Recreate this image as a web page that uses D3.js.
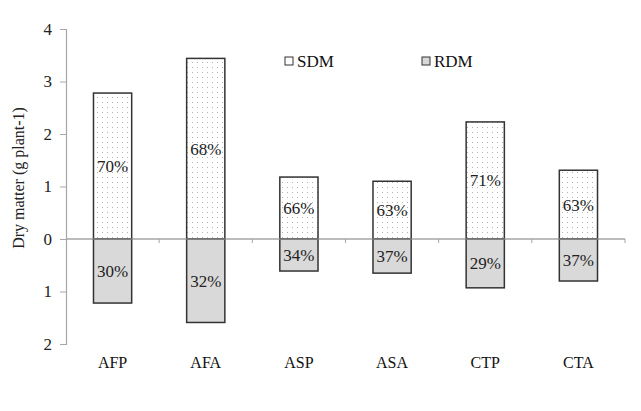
<!DOCTYPE html>
<html><head><meta charset="utf-8">
<script src="https://cdn.jsdelivr.net/npm/d3@7"></script>
<style>body{margin:0;background:#fff}svg{display:block}</style>
</head><body>
<script>
const categories = ["AFP","AFA","ASP","ASA","CTP","CTA"];
const sdm = [2.78, 3.44, 1.18, 1.10, 2.23, 1.31];
const rdm = [1.22, 1.59, 0.61, 0.65, 0.93, 0.80];
const sdmPct = ["70%","68%","66%","63%","71%","63%"];
const rdmPct = ["30%","32%","34%","37%","29%","37%"];
const yTicks = [-2,-1,0,1,2,3,4];
const seriesNames = ["SDM","RDM"];

const W=641,H=411;
const svg=d3.select("body").append("svg").attr("width",W).attr("height",H);
const defs=svg.append("defs");
const pat=defs.append("pattern").attr("id","dots").attr("patternUnits","userSpaceOnUse")
  .attr("width",5).attr("height",5);
pat.append("rect").attr("width",5).attr("height",5).attr("fill","#fff");
pat.append("rect").attr("x",2).attr("y",2).attr("width",1).attr("height",1).attr("fill","#b0b0b0");

const x=d3.scaleBand().domain(categories).range([66,625]).paddingInner(0.59).paddingOuter(0.295);
const xb=d3.scaleBand().domain(categories).range([66,625]);
const y=d3.scaleLinear().domain([-2,4]).range([344,29]);
const serif="'Liberation Serif','Times New Roman',serif";
const axisCol="#a6a6a6";

// y axis
const ya=svg.append("g").attr("transform","translate(66,0)")
  .call(d3.axisLeft(y).tickValues(yTicks).tickSize(6).tickFormat(d=>Math.abs(d)));
ya.select(".domain").attr("stroke",axisCol).attr("stroke-width",1.2);
ya.selectAll(".tick line").attr("stroke",axisCol);
ya.selectAll(".tick text").attr("font-family",serif).attr("font-size",17).attr("fill","#222").attr("x",-14);

// x axis at zero
const xa=svg.append("g").attr("transform",`translate(0,${y(0)})`);
xa.append("line").attr("x1",66).attr("x2",625).attr("stroke",axisCol).attr("stroke-width",1.2);
xa.selectAll(".xt").data(categories).join("line").attr("class","xt")
  .attr("x1",d=>xb(d)+xb.bandwidth()).attr("x2",d=>xb(d)+xb.bandwidth())
  .attr("y1",0).attr("y2",4).attr("stroke",axisCol);

// bars
const g=svg.append("g");
categories.forEach((c,i)=>{
  g.append("rect").attr("x",x(c)).attr("width",x.bandwidth())
    .attr("y",y(sdm[i])).attr("height",y(0)-y(sdm[i]))
    .attr("fill","url(#dots)").attr("stroke","#333").attr("stroke-width",1.5);
  g.append("rect").attr("x",x(c)).attr("width",x.bandwidth())
    .attr("y",y(0)).attr("height",y(-rdm[i])-y(0))
    .attr("fill","#d9d9d9").attr("stroke","#333").attr("stroke-width",1.5);
  g.append("text").attr("x",x(c)+x.bandwidth()/2).attr("y",y(sdm[i]/2)+6)
    .attr("text-anchor","middle").attr("font-family",serif).attr("font-size",17).attr("fill","#222").text(sdmPct[i]);
  g.append("text").attr("x",x(c)+x.bandwidth()/2).attr("y",y(-rdm[i]/2)+6)
    .attr("text-anchor","middle").attr("font-family",serif).attr("font-size",17).attr("fill","#222").text(rdmPct[i]);
});
svg.append("line").attr("x1",66).attr("x2",625).attr("y1",y(0)).attr("y2",y(0)).attr("stroke",axisCol).attr("stroke-width",1.2);

// category labels
svg.selectAll(".cl").data(categories).join("text").attr("class","cl")
  .attr("x",d=>xb(d)+xb.bandwidth()/2).attr("y",368).attr("text-anchor","middle")
  .attr("font-family",serif).attr("font-size",16).attr("fill","#111").text(d=>d);

// y title
svg.append("text").attr("transform","translate(24,178) rotate(-90)").attr("text-anchor","middle")
  .attr("font-family",serif).attr("font-size",16).attr("fill","#222").text("Dry matter  (g plant-1)");

// legend
const leg=[{x:285,fill:"#fff"},{x:422,fill:"#d9d9d9"}];
seriesNames.forEach((s,i)=>{
  svg.append("rect").attr("x",leg[i].x).attr("y",57).attr("width",8).attr("height",8)
    .attr("fill",leg[i].fill).attr("stroke","#333").attr("stroke-width",1);
  svg.append("text").attr("x",leg[i].x+12).attr("y",67).attr("font-family",serif).attr("font-size",17)
    .attr("fill","#111").text(s);
});
</script>
</body></html>
